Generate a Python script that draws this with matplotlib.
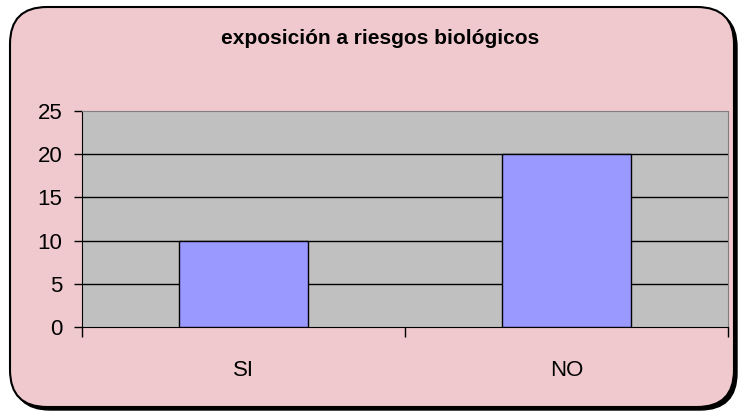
import matplotlib.pyplot as plt
import numpy as np
from matplotlib.patches import FancyBboxPatch

plt.rcParams['font.family'] = ['Liberation Sans', 'DejaVu Sans']

categorias = ['SI', 'NO']
valores = [10, 20]
titulo = 'exposición a riesgos biológicos'
y_ticks = [0, 5, 10, 15, 20, 25]

fig = plt.figure(figsize=(7.4, 4.12), dpi=100)
fig.patch.set_facecolor('white')

# marco redondeado con sombra
W, H = 740, 412
sombra = FancyBboxPatch((13 / W, 2 / H), 724 / W, 400 / H,
                        boxstyle='round,pad=0,rounding_size=0.05',
                        transform=fig.transFigure, facecolor='black',
                        edgecolor='black', lw=1, mutation_aspect=W / H, zorder=-2)
marco = FancyBboxPatch((10 / W, 5 / H), 724 / W, 400 / H,
                       boxstyle='round,pad=0,rounding_size=0.05',
                       transform=fig.transFigure, facecolor='#efc9cd',
                       edgecolor='black', lw=1.5, mutation_aspect=W / H, zorder=-1)
fig.patches.extend([sombra, marco])

ax = fig.add_axes([82 / W, 1 - 327 / H, (728 - 82) / W, (327 - 111) / H])
ax.set_zorder(1)
ax.set_facecolor('#c0c0c0')

x = np.arange(len(categorias))
ax.bar(x, valores, width=0.4, color='#9999ff', edgecolor='black', lw=1, zorder=3)

ax.set_xlim(-0.5, len(categorias) - 0.5)
ax.set_ylim(0, 25)
ax.set_yticks(y_ticks)
ax.tick_params(axis='y', labelsize=16, length=6, width=1, direction='out', pad=8)
for v in y_ticks[1:-1]:
    ax.axhline(v, color='black', lw=1, zorder=1)

ax.set_xticks(np.arange(-0.5, len(categorias), 1))
ax.set_xticklabels([])
ax.tick_params(axis='x', which='major', length=7, width=1, direction='out')
ax.set_xticks(x, minor=True)
ax.set_xticklabels(categorias, minor=True)
ax.tick_params(axis='x', which='minor', length=0, labelsize=16, pad=24)

ax.spines['left'].set_color('black')
ax.spines['bottom'].set_color('black')
ax.spines['top'].set_color('#808080')
ax.spines['right'].set_color('#808080')

fig.text(380 / W, 1 - 38 / H, titulo, ha='center', va='center',
         fontsize=15, fontweight='bold')

fig.savefig('out.png', dpi=100)
